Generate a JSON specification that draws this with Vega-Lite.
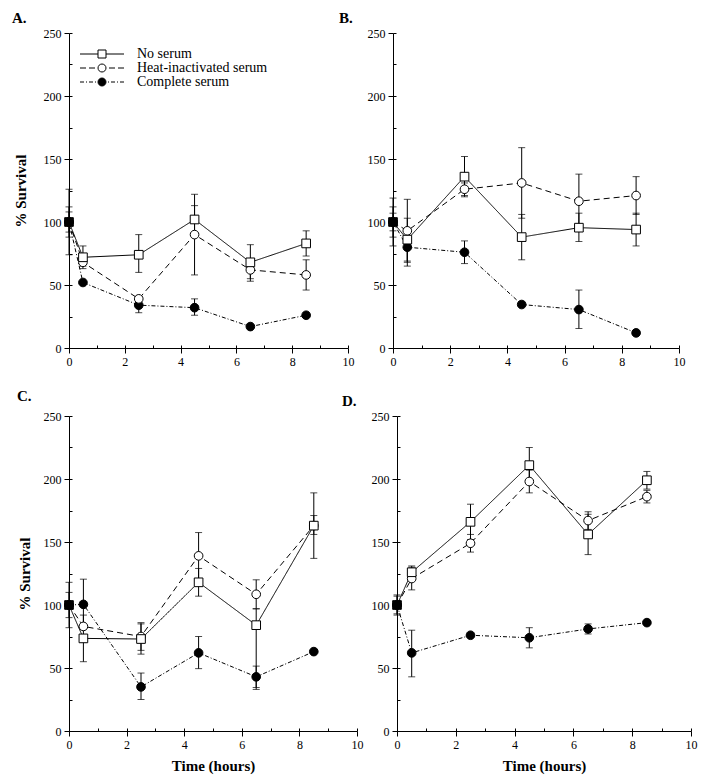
{
  "$schema": "https://vega.github.io/schema/vega-lite/v6.json",
  "padding": {"left": 12, "top": 11, "right": 5, "bottom": 5},
  "datasets": {
    "d": [
      {"p":"A","s":"Complete serum","t":0,"v":100,"lo":92,"hi":108},
      {"p":"A","s":"Complete serum","t":0.5,"v":52,"lo":52,"hi":52},
      {"p":"A","s":"Complete serum","t":2.5,"v":34,"lo":28,"hi":40},
      {"p":"A","s":"Complete serum","t":4.5,"v":32,"lo":26,"hi":39},
      {"p":"A","s":"Complete serum","t":6.5,"v":17,"lo":17,"hi":17},
      {"p":"A","s":"Complete serum","t":8.5,"v":26,"lo":26,"hi":26},
      {"p":"A","s":"Heat-inactivated serum","t":0,"v":100,"lo":74,"hi":126},
      {"p":"A","s":"Heat-inactivated serum","t":0.5,"v":68,"lo":65,"hi":71},
      {"p":"A","s":"Heat-inactivated serum","t":2.5,"v":39,"lo":37,"hi":41},
      {"p":"A","s":"Heat-inactivated serum","t":4.5,"v":90,"lo":58,"hi":122},
      {"p":"A","s":"Heat-inactivated serum","t":6.5,"v":62,"lo":53,"hi":71},
      {"p":"A","s":"Heat-inactivated serum","t":8.5,"v":58,"lo":46,"hi":70},
      {"p":"A","s":"No serum","t":0,"v":100,"lo":88,"hi":112},
      {"p":"A","s":"No serum","t":0.5,"v":72,"lo":63,"hi":81},
      {"p":"A","s":"No serum","t":2.5,"v":74,"lo":60,"hi":90},
      {"p":"A","s":"No serum","t":4.5,"v":102,"lo":91,"hi":113},
      {"p":"A","s":"No serum","t":6.5,"v":68,"lo":55,"hi":82},
      {"p":"A","s":"No serum","t":8.5,"v":83,"lo":73,"hi":93},
      {"p":"B","s":"Complete serum","t":0,"v":100,"lo":93,"hi":107},
      {"p":"B","s":"Complete serum","t":0.5,"v":80,"lo":65,"hi":95},
      {"p":"B","s":"Complete serum","t":2.5,"v":76,"lo":67,"hi":85},
      {"p":"B","s":"Complete serum","t":4.5,"v":34.5,"lo":34.5,"hi":34.5},
      {"p":"B","s":"Complete serum","t":6.5,"v":30.5,"lo":15.5,"hi":46},
      {"p":"B","s":"Complete serum","t":8.5,"v":12,"lo":12,"hi":12},
      {"p":"B","s":"Heat-inactivated serum","t":0,"v":100,"lo":81,"hi":119},
      {"p":"B","s":"Heat-inactivated serum","t":0.5,"v":93,"lo":68,"hi":118},
      {"p":"B","s":"Heat-inactivated serum","t":2.5,"v":126,"lo":121,"hi":131},
      {"p":"B","s":"Heat-inactivated serum","t":4.5,"v":131,"lo":103,"hi":159},
      {"p":"B","s":"Heat-inactivated serum","t":6.5,"v":116.5,"lo":95,"hi":138},
      {"p":"B","s":"Heat-inactivated serum","t":8.5,"v":121,"lo":106,"hi":136},
      {"p":"B","s":"No serum","t":0,"v":100,"lo":88,"hi":112},
      {"p":"B","s":"No serum","t":0.5,"v":86,"lo":69,"hi":103},
      {"p":"B","s":"No serum","t":2.5,"v":136,"lo":120,"hi":152},
      {"p":"B","s":"No serum","t":4.5,"v":88,"lo":70,"hi":106},
      {"p":"B","s":"No serum","t":6.5,"v":95.5,"lo":84.5,"hi":107},
      {"p":"B","s":"No serum","t":8.5,"v":94,"lo":81,"hi":107},
      {"p":"C","s":"Complete serum","t":0,"v":100,"lo":100,"hi":100},
      {"p":"C","s":"Complete serum","t":0.5,"v":100.5,"lo":80.5,"hi":120.5},
      {"p":"C","s":"Complete serum","t":2.5,"v":35,"lo":25,"hi":46},
      {"p":"C","s":"Complete serum","t":4.5,"v":62,"lo":49.5,"hi":75},
      {"p":"C","s":"Complete serum","t":6.5,"v":43,"lo":34.5,"hi":51.5},
      {"p":"C","s":"Complete serum","t":8.5,"v":63,"lo":63,"hi":63},
      {"p":"C","s":"Heat-inactivated serum","t":0,"v":100,"lo":82,"hi":118},
      {"p":"C","s":"Heat-inactivated serum","t":0.5,"v":83,"lo":83,"hi":83},
      {"p":"C","s":"Heat-inactivated serum","t":2.5,"v":75,"lo":64,"hi":86},
      {"p":"C","s":"Heat-inactivated serum","t":4.5,"v":139,"lo":120.5,"hi":157.5},
      {"p":"C","s":"Heat-inactivated serum","t":6.5,"v":108.5,"lo":97,"hi":120},
      {"p":"C","s":"Heat-inactivated serum","t":8.5,"v":163,"lo":137,"hi":189},
      {"p":"C","s":"No serum","t":0,"v":100,"lo":90,"hi":110},
      {"p":"C","s":"No serum","t":0.5,"v":73.5,"lo":55,"hi":92},
      {"p":"C","s":"No serum","t":2.5,"v":73,"lo":61,"hi":85},
      {"p":"C","s":"No serum","t":4.5,"v":118,"lo":107,"hi":129},
      {"p":"C","s":"No serum","t":6.5,"v":84,"lo":33,"hi":97},
      {"p":"C","s":"No serum","t":8.5,"v":163,"lo":156,"hi":171},
      {"p":"D","s":"Complete serum","t":0,"v":100,"lo":100,"hi":100},
      {"p":"D","s":"Complete serum","t":0.5,"v":62,"lo":43,"hi":80},
      {"p":"D","s":"Complete serum","t":2.5,"v":76,"lo":76,"hi":76},
      {"p":"D","s":"Complete serum","t":4.5,"v":74,"lo":66,"hi":82},
      {"p":"D","s":"Complete serum","t":6.5,"v":81,"lo":77,"hi":85},
      {"p":"D","s":"Complete serum","t":8.5,"v":86,"lo":86,"hi":86},
      {"p":"D","s":"Heat-inactivated serum","t":0,"v":100,"lo":92,"hi":108},
      {"p":"D","s":"Heat-inactivated serum","t":0.5,"v":121,"lo":112,"hi":130},
      {"p":"D","s":"Heat-inactivated serum","t":2.5,"v":149,"lo":142,"hi":156},
      {"p":"D","s":"Heat-inactivated serum","t":4.5,"v":198,"lo":189,"hi":207},
      {"p":"D","s":"Heat-inactivated serum","t":6.5,"v":167,"lo":160,"hi":174},
      {"p":"D","s":"Heat-inactivated serum","t":8.5,"v":186,"lo":181,"hi":191},
      {"p":"D","s":"No serum","t":0,"v":100,"lo":93,"hi":107},
      {"p":"D","s":"No serum","t":0.5,"v":126,"lo":121,"hi":131},
      {"p":"D","s":"No serum","t":2.5,"v":166,"lo":152,"hi":180},
      {"p":"D","s":"No serum","t":4.5,"v":211,"lo":197,"hi":225},
      {"p":"D","s":"No serum","t":6.5,"v":156,"lo":140,"hi":172},
      {"p":"D","s":"No serum","t":8.5,"v":199,"lo":192,"hi":206}
    ]
  },
  "spacing": 22,
  "resolve": {"scale": {"shape": "independent", "fill": "independent", "strokeDash": "independent", "stroke": "independent"}},
  "vconcat": [
    {
      "bounds": "flush",
      "spacing": 45,
      "resolve": {"scale": {"shape": "independent", "fill": "independent", "strokeDash": "independent", "stroke": "independent"}},
      "hconcat": [
        {
          "width": 279, "height": 315,
          "title": {"text": "A.", "dx": -57, "frame": "group", "anchor": "start", "offset": 1},
          "data": {"name": "d"},
          "transform": [{"filter": "datum.p === 'A'"}],
          "layer": [
            {
              "mark": {"type": "errorbar", "color": "black", "ticks": {"size": 7, "thickness": 1, "color": "black"}, "rule": {"strokeWidth": 1, "color": "black"}},
              "encoding": {
                "x": {"field": "t", "type": "quantitative", "scale": {"domain": [0, 10], "nice": false}, "axis": {"values": [0,2,4,6,8,10], "title": null, "orient": "bottom"}},
                "y": {"field": "lo", "type": "quantitative", "scale": {"domain": [0, 250], "nice": false}, "axis": {"values": [0,50,100,150,200,250], "title": "% Survival", "orient": "left", "titlePadding": 15}},
                "y2": {"field": "hi"}
              }
            },
            {
              "mark": {"type": "line", "color": "black", "strokeWidth": 1},
              "encoding": {
                "x": {"field": "t", "type": "quantitative", "axis": {"values": [1,3,5,7,9], "labels": false, "domain": false, "tickSize": -3, "title": null, "orient": "bottom"}},
                "y": {"field": "v", "type": "quantitative", "axis": {"values": [25,75,125,175,225], "labels": false, "domain": false, "tickSize": -3, "title": null, "orient": "left"}},
                "strokeDash": {"field": "s", "type": "nominal", "scale": {"domain": ["Complete serum", "Heat-inactivated serum", "No serum"], "range": [[4,2,1,2],[6,4],[1,0]]}, "legend": null}
              }
            },
            {
              "mark": {"type": "point", "stroke": "black", "strokeWidth": 1, "opacity": 1, "size": 75},
              "encoding": {
                "x": {"field": "t", "type": "quantitative", "axis": {"values": [0,2,4,6,8,10], "labels": false, "domain": false, "tickSize": -3, "title": null, "orient": "bottom"}},
                "y": {"field": "v", "type": "quantitative", "axis": {"values": [0,50,100,150,200,250], "labels": false, "domain": false, "tickSize": -3, "title": null, "orient": "left"}},
                "shape": {"field": "s", "type": "nominal", "scale": {"domain": ["Complete serum", "Heat-inactivated serum", "No serum"], "range": ["circle", "circle", "square"]}, "legend": null},
                "fill": {"condition": {"test": "datum.t === 0", "value": "black"}, "field": "s", "type": "nominal", "scale": {"domain": ["Complete serum", "Heat-inactivated serum", "No serum"], "range": ["black", "white", "white"]}, "legend": null}
              }
            },
            {
              "transform": [{"filter": "datum.t < 0"}],
              "mark": {"type": "point", "strokeWidth": 1, "opacity": 1},
              "encoding": {
                "x": {"field": "t", "type": "quantitative", "axis": null},
                "y": {"field": "v", "type": "quantitative", "axis": null},
                "shape": {"field": "s", "type": "nominal",
                  "scale": {"domain": ["No serum", "Heat-inactivated serum", "Complete serum"],
                    "range": ["M-4.4,0H-0.8M0.8,0H4.4M-0.8,-0.8H0.8V0.8H-0.8Z",
                              "M-4.4,0H-3.2M-2.6,0H-1.4M1.4,0H2.6M3.2,0H4.4M0.8,0A0.8,0.8,0,1,1,-0.8,0A0.8,0.8,0,1,1,0.8,0Z",
                              "M-4.4,0H-3.6M-3.2,0H-3M-2.6,0H-1.8M-1.4,0H-1.2M1.2,0H1.4M1.8,0H2.6M3,0H3.2M3.6,0H4.4M0.8,0A0.8,0.8,0,1,1,-0.8,0A0.8,0.8,0,1,1,0.8,0Z"]},
                  "legend": {
                    "orient": "none", "legendX": 26, "legendY": 14, "title": null, "padding": 0,
                    "labelFont": "Liberation Serif", "labelFontSize": 14, "labelColor": "black", "labelOffset": 28, "labelLimit": 300,
                    "symbolSize": 100, "rowPadding": -2, "symbolStrokeWidth": 1, "symbolOpacity": 1
                  }},
                "fill": {"field": "s", "type": "nominal",
                  "scale": {"domain": ["No serum", "Heat-inactivated serum", "Complete serum"], "range": ["white", "white", "black"]},
                  "legend": {
                    "orient": "none", "legendX": 26, "legendY": 14, "title": null, "padding": 0,
                    "labelFont": "Liberation Serif", "labelFontSize": 14, "labelColor": "black", "labelOffset": 28, "labelLimit": 300,
                    "symbolSize": 100, "rowPadding": -2, "symbolStrokeWidth": 1, "symbolOpacity": 1
                  }},
                "stroke": {"field": "s", "type": "nominal",
                  "scale": {"domain": ["No serum", "Heat-inactivated serum", "Complete serum"], "range": ["black", "black", "black"]},
                  "legend": {
                    "orient": "none", "legendX": 26, "legendY": 14, "title": null, "padding": 0,
                    "labelFont": "Liberation Serif", "labelFontSize": 14, "labelColor": "black", "labelOffset": 28, "labelLimit": 300,
                    "symbolSize": 100, "rowPadding": -2, "symbolStrokeWidth": 1, "symbolOpacity": 1
                  }}
              }
            }
          ],
          "resolve": {"axis": {"x": "independent", "y": "independent"}, "scale": {"shape": "independent", "fill": "independent", "stroke": "independent"}}
        },
        {
          "width": 286, "height": 315,
          "title": {"text": "B.", "dx": -54, "frame": "group", "anchor": "start", "offset": 1},
          "data": {"name": "d"},
          "transform": [{"filter": "datum.p === 'B'"}],
          "layer": [
            {
              "mark": {"type": "errorbar", "color": "black", "ticks": {"size": 7, "thickness": 1, "color": "black"}, "rule": {"strokeWidth": 1, "color": "black"}},
              "encoding": {
                "x": {"field": "t", "type": "quantitative", "scale": {"domain": [0, 10], "nice": false}, "axis": {"values": [0,2,4,6,8,10], "title": null, "orient": "bottom"}},
                "y": {"field": "lo", "type": "quantitative", "scale": {"domain": [0, 250], "nice": false}, "axis": {"values": [0,50,100,150,200,250], "title": null, "orient": "left"}},
                "y2": {"field": "hi"}
              }
            },
            {
              "mark": {"type": "line", "color": "black", "strokeWidth": 1},
              "encoding": {
                "x": {"field": "t", "type": "quantitative", "axis": {"values": [1,3,5,7,9], "labels": false, "domain": false, "tickSize": -3, "title": null, "orient": "bottom"}},
                "y": {"field": "v", "type": "quantitative", "axis": {"values": [25,75,125,175,225], "labels": false, "domain": false, "tickSize": -3, "title": null, "orient": "left"}},
                "strokeDash": {"field": "s", "type": "nominal", "scale": {"domain": ["No serum", "Heat-inactivated serum", "Complete serum"], "range": [[1,0],[6,4],[4,2,1,2]]}, "legend": null}
              }
            },
            {
              "mark": {"type": "point", "stroke": "black", "strokeWidth": 1, "opacity": 1, "size": 75},
              "encoding": {
                "x": {"field": "t", "type": "quantitative", "axis": {"values": [0,2,4,6,8,10], "labels": false, "domain": false, "tickSize": -3, "title": null, "orient": "bottom"}},
                "y": {"field": "v", "type": "quantitative", "axis": {"values": [0,50,100,150,200,250], "labels": false, "domain": false, "tickSize": -3, "title": null, "orient": "left"}},
                "shape": {"field": "s", "type": "nominal", "scale": {"domain": ["No serum", "Heat-inactivated serum", "Complete serum"], "range": ["square", "circle", "circle"]}, "legend": null},
                "fill": {"condition": {"test": "datum.t === 0", "value": "black"}, "field": "s", "type": "nominal", "scale": {"domain": ["No serum", "Heat-inactivated serum", "Complete serum"], "range": ["white", "white", "black"]}, "legend": null}
              }
            }
          ],
          "resolve": {"axis": {"x": "independent", "y": "independent"}}
        }
      ]
    },
    {
      "bounds": "flush",
      "spacing": 40,
      "resolve": {"scale": {"shape": "independent", "fill": "independent", "strokeDash": "independent", "stroke": "independent"}},
      "hconcat": [
        {
          "width": 288, "height": 315,
          "title": {"text": "C.", "dx": -52, "dy": -5, "frame": "group", "anchor": "start", "offset": 1},
          "data": {"name": "d"},
          "transform": [{"filter": "datum.p === 'C'"}],
          "layer": [
            {
              "mark": {"type": "errorbar", "color": "black", "ticks": {"size": 7, "thickness": 1, "color": "black"}, "rule": {"strokeWidth": 1, "color": "black"}},
              "encoding": {
                "x": {"field": "t", "type": "quantitative", "scale": {"domain": [0, 10], "nice": false}, "axis": {"values": [0,2,4,6,8,10], "title": "Time (hours)", "orient": "bottom"}},
                "y": {"field": "lo", "type": "quantitative", "scale": {"domain": [0, 250], "nice": false}, "axis": {"values": [0,50,100,150,200,250], "title": "% Survival", "orient": "left", "titlePadding": 11}},
                "y2": {"field": "hi"}
              }
            },
            {
              "mark": {"type": "line", "color": "black", "strokeWidth": 1},
              "encoding": {
                "x": {"field": "t", "type": "quantitative", "axis": {"values": [1,3,5,7,9], "labels": false, "domain": false, "tickSize": -3, "title": null, "orient": "bottom"}},
                "y": {"field": "v", "type": "quantitative", "axis": {"values": [25,75,125,175,225], "labels": false, "domain": false, "tickSize": -3, "title": null, "orient": "left"}},
                "strokeDash": {"field": "s", "type": "nominal", "scale": {"domain": ["No serum", "Heat-inactivated serum", "Complete serum"], "range": [[1,0],[6,4],[4,2,1,2]]}, "legend": null}
              }
            },
            {
              "mark": {"type": "point", "stroke": "black", "strokeWidth": 1, "opacity": 1, "size": 75},
              "encoding": {
                "x": {"field": "t", "type": "quantitative", "axis": {"values": [0,2,4,6,8,10], "labels": false, "domain": false, "tickSize": -3, "title": null, "orient": "bottom"}},
                "y": {"field": "v", "type": "quantitative", "axis": {"values": [0,50,100,150,200,250], "labels": false, "domain": false, "tickSize": -3, "title": null, "orient": "left"}},
                "shape": {"field": "s", "type": "nominal", "scale": {"domain": ["No serum", "Heat-inactivated serum", "Complete serum"], "range": ["square", "circle", "circle"]}, "legend": null},
                "fill": {"condition": {"test": "datum.t === 0", "value": "black"}, "field": "s", "type": "nominal", "scale": {"domain": ["No serum", "Heat-inactivated serum", "Complete serum"], "range": ["white", "white", "black"]}, "legend": null}
              }
            }
          ],
          "resolve": {"axis": {"x": "independent", "y": "independent"}}
        },
        {
          "width": 294, "height": 315,
          "title": {"text": "D.", "dx": -55, "frame": "group", "anchor": "start", "offset": 1},
          "data": {"name": "d"},
          "transform": [{"filter": "datum.p === 'D'"}],
          "layer": [
            {
              "mark": {"type": "errorbar", "color": "black", "ticks": {"size": 7, "thickness": 1, "color": "black"}, "rule": {"strokeWidth": 1, "color": "black"}},
              "encoding": {
                "x": {"field": "t", "type": "quantitative", "scale": {"domain": [0, 10], "nice": false}, "axis": {"values": [0,2,4,6,8,10], "title": "Time (hours)", "orient": "bottom"}},
                "y": {"field": "lo", "type": "quantitative", "scale": {"domain": [0, 250], "nice": false}, "axis": {"values": [0,50,100,150,200,250], "title": null, "orient": "left"}},
                "y2": {"field": "hi"}
              }
            },
            {
              "mark": {"type": "line", "color": "black", "strokeWidth": 1},
              "encoding": {
                "x": {"field": "t", "type": "quantitative", "axis": {"values": [1,3,5,7,9], "labels": false, "domain": false, "tickSize": -3, "title": null, "orient": "bottom"}},
                "y": {"field": "v", "type": "quantitative", "axis": {"values": [25,75,125,175,225], "labels": false, "domain": false, "tickSize": -3, "title": null, "orient": "left"}},
                "strokeDash": {"field": "s", "type": "nominal", "scale": {"domain": ["No serum", "Heat-inactivated serum", "Complete serum"], "range": [[1,0],[6,4],[4,2,1,2]]}, "legend": null}
              }
            },
            {
              "mark": {"type": "point", "stroke": "black", "strokeWidth": 1, "opacity": 1, "size": 75},
              "encoding": {
                "x": {"field": "t", "type": "quantitative", "axis": {"values": [0,2,4,6,8,10], "labels": false, "domain": false, "tickSize": -3, "title": null, "orient": "bottom"}},
                "y": {"field": "v", "type": "quantitative", "axis": {"values": [0,50,100,150,200,250], "labels": false, "domain": false, "tickSize": -3, "title": null, "orient": "left"}},
                "shape": {"field": "s", "type": "nominal", "scale": {"domain": ["No serum", "Heat-inactivated serum", "Complete serum"], "range": ["square", "circle", "circle"]}, "legend": null},
                "fill": {"condition": {"test": "datum.t === 0", "value": "black"}, "field": "s", "type": "nominal", "scale": {"domain": ["No serum", "Heat-inactivated serum", "Complete serum"], "range": ["white", "white", "black"]}, "legend": null}
              }
            }
          ],
          "resolve": {"axis": {"x": "independent", "y": "independent"}}
        }
      ]
    }
  ],
  "config": {
    "view": {"stroke": null},
    "axis": {
      "grid": false, "labelFont": "Liberation Serif", "labelFontSize": 12, "labelColor": "black",
      "titleFont": "Liberation Serif", "titleFontSize": 15, "titleFontWeight": "bold", "titleColor": "black",
      "domainColor": "black", "tickColor": "black", "domainWidth": 1, "tickWidth": 1, "tickSize": 5,
      "labelPadding": 3, "titlePadding": 12, "labelFlush": false, "labelOverlap": false
    },
    "axisX": {"titlePadding": 8},
    "title": {"font": "Liberation Serif", "fontSize": 15, "fontWeight": "bold", "color": "black"}
  }
}
